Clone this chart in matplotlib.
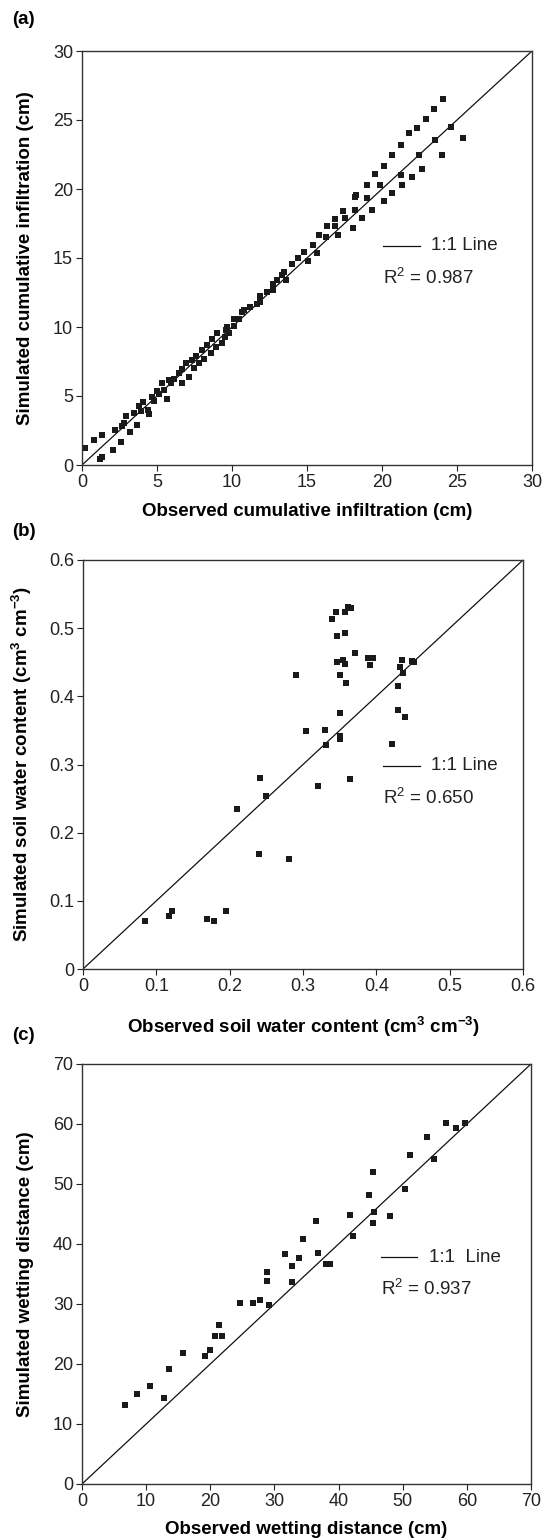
import matplotlib
matplotlib.use("Agg")
import matplotlib.pyplot as plt

plt.rcParams["font.family"] = ["Liberation Sans", "DejaVu Sans"]
plt.rcParams["mathtext.default"] = "regular"

# (a) cumulative infiltration (cm)
obs_a = [0.23, 0.82, 1.35, 1.17, 1.35, 2.05, 2.17, 2.63, 2.68, 2.77, 2.96, 3.19,
         3.45, 3.66, 3.8, 4.08, 3.94, 4.43, 4.48, 4.69, 4.78, 4.97, 5.13, 5.34,
         5.48, 5.66, 5.8, 5.9, 6.13, 6.46, 6.69, 6.64, 6.95, 7.11, 7.3, 7.46,
         7.58, 7.81, 8.0, 8.16, 8.32, 8.58, 8.69, 8.93, 9.02, 9.32, 9.51, 9.79,
         9.64, 9.8, 9.6, 10.13, 10.13, 10.49, 10.69, 10.8, 11.2, 11.64, 11.87,
         11.87, 12.36, 12.71, 12.71, 13.02, 13.31, 13.47, 13.6, 14.02, 14.38,
         14.8, 15.04, 15.42, 15.69, 15.8, 16.25, 16.35,
         16.84, 16.84, 17.07, 17.42, 17.51, 18.09, 18.18, 18.18, 18.29, 18.64,
         18.98, 18.98, 19.31, 19.53, 19.87, 20.11, 20.11, 20.67, 20.67, 21.24,
         21.24, 21.36, 21.8, 22.0, 22.36, 22.49, 22.69, 22.91, 23.47, 23.56,
         24.02, 24.05, 24.58, 25.38]
sim_a = [1.21, 1.81, 2.15, 0.41, 0.6, 1.09, 2.54, 1.67, 2.83, 3.07, 3.55, 2.39,
         3.79, 2.87, 4.28, 4.57, 3.94, 3.99, 3.67, 4.95, 4.66, 5.39, 5.14, 5.92,
         5.43, 4.76, 6.16, 5.97, 6.21, 6.69, 5.92, 6.93, 7.37, 6.4, 7.6, 7.0,
         7.9, 7.37, 8.33, 7.68, 8.7, 8.14, 9.1, 8.53, 9.54, 8.86, 9.25, 9.54,
         10.0, 9.54, 9.78, 10.57, 10.07, 10.57, 11.06, 11.24, 11.47, 11.7, 12.27,
         11.84, 12.56, 13.1, 12.7, 13.4, 13.77, 14.0, 13.4, 14.54, 14.97,
         15.4, 14.78, 15.94, 15.34, 16.64, 16.5, 17.34,
         17.8, 17.34, 16.64, 18.4, 17.9, 17.2, 19.45, 18.5, 19.57, 17.9,
         20.3, 19.35, 18.5, 21.1, 20.3, 21.7, 19.1, 22.5, 19.7, 23.2,
         21.0, 20.3, 24.06, 20.87, 24.4, 22.5, 21.45, 25.1, 25.8, 23.55,
         22.5, 26.52, 24.5, 23.7]

# (b) soil water content (cm3 cm-3)
obs_b = [0.345, 0.340, 0.357, 0.361, 0.366, 0.347, 0.357, 0.371, 0.347, 0.355,
         0.357, 0.388, 0.395, 0.391, 0.290, 0.350, 0.359, 0.435, 0.449, 0.451,
         0.432, 0.437, 0.430, 0.350, 0.430, 0.439, 0.304, 0.330, 0.350, 0.350,
         0.331, 0.421, 0.242, 0.364, 0.320, 0.249, 0.210, 0.240, 0.281,
         0.084, 0.117, 0.121, 0.169, 0.179, 0.195]
sim_b = [0.524, 0.514, 0.524, 0.531, 0.529, 0.488, 0.493, 0.463, 0.451, 0.453,
         0.447, 0.456, 0.456, 0.446, 0.432, 0.432, 0.420, 0.453, 0.452, 0.451,
         0.443, 0.434, 0.415, 0.375, 0.380, 0.370, 0.349, 0.351, 0.342, 0.338,
         0.328, 0.330, 0.280, 0.278, 0.268, 0.254, 0.235, 0.169, 0.161,
         0.071, 0.078, 0.085, 0.073, 0.071, 0.085]

# (c) wetting distance (cm)
obs_c = [6.7, 8.6, 10.6, 12.8, 13.6, 15.8, 19.2, 20.0, 20.8, 21.9, 21.3, 24.7,
         26.6, 27.7, 29.1, 28.8, 28.8, 31.7, 32.8, 32.8, 33.8, 34.4, 36.5, 36.8,
         38.1, 38.65, 41.8, 42.3, 44.7, 45.3, 45.5, 45.3, 48.0, 50.3, 51.2, 53.8,
         54.9, 56.7, 58.3, 59.7]
sim_c = [13.1, 15.0, 16.4, 14.4, 19.1, 21.8, 21.3, 22.4, 24.6, 24.6, 26.5, 30.1,
         30.1, 30.6, 29.8, 33.9, 35.3, 38.3, 36.4, 33.6, 37.7, 40.8, 43.8, 38.5,
         36.7, 36.7, 44.9, 41.3, 48.2, 52.0, 45.4, 43.5, 44.6, 49.2, 54.8, 57.8,
         54.2, 60.2, 59.4, 60.2]

ticks_a = [0, 5, 10, 15, 20, 25, 30]
ticks_b = [0, 0.1, 0.2, 0.3, 0.4, 0.5, 0.6]
labels_b = ["0", "0.1", "0.2", "0.3", "0.4", "0.5", "0.6"]
ticks_c = [0, 10, 20, 30, 40, 50, 60, 70]

W, H = 548, 1540
fig = plt.figure(figsize=(W / 100, H / 100), dpi=100)


def make_ax(left, top, right, bottom):
    return fig.add_axes([left / W, 1 - bottom / H, (right - left) / W, (bottom - top) / H])


panels = [
    dict(ax=make_ax(82, 51, 532, 465), x=obs_a, y=sim_a, ticks=ticks_a, labels=None,
         xlabel="Observed cumulative infiltration (cm)",
         ylabel="Simulated cumulative infiltration (cm)",
         r2="0.987", tag="(a)", tag_y=20, leg=(0.668, 0.750, 0.775, 0.530, 0.451),
         xl=-0.092, yl=-0.107, line_lab="1:1 Line"),
    dict(ax=make_ax(83, 560, 523, 969), x=obs_b, y=sim_b, ticks=ticks_b, labels=labels_b,
         xlabel="Observed soil water content (cm$^{3}$ cm$^{-3}$)",
         ylabel="Simulated soil water content (cm$^{3}$ cm$^{-3}$)",
         r2="0.650", tag="(b)", tag_y=532, leg=(0.681, 0.766, 0.790, 0.497, 0.419),
         xl=-0.1125, yl=-0.111, line_lab="1:1 Line"),
    dict(ax=make_ax(82, 1064, 531, 1484), x=obs_c, y=sim_c, ticks=ticks_c, labels=None,
         xlabel="Observed wetting distance (cm)",
         ylabel="Simulated wetting distance (cm)",
         r2="0.937", tag="(c)", tag_y=1036, leg=(0.666, 0.747, 0.773, 0.540, 0.464),
         xl=-0.089, yl=-0.107, line_lab="1:1  Line"),
]

for p in panels:
    ax = p["ax"]
    lim = p["ticks"][-1]
    ax.plot([0, lim], [0, lim], color="#111111", lw=0.9)
    ax.plot(p["x"], p["y"], "s", color="#1a1a1a", ms=4.8, mew=0)
    ax.set_xlim(0, lim)
    ax.set_ylim(0, lim)
    ax.set_xticks(p["ticks"])
    ax.set_yticks(p["ticks"])
    if p["labels"]:
        ax.set_xticklabels(p["labels"])
        ax.set_yticklabels(p["labels"])
    ax.tick_params(direction="out", length=4.5, width=0.8, labelsize=13,
                   colors="#222222", pad=2)
    for s in ax.spines.values():
        s.set_color("#333333")
        s.set_linewidth(1.0)
    ax.set_xlabel(p["xlabel"], fontsize=13.5, fontweight="bold")
    ax.set_ylabel(p["ylabel"], fontsize=13.5, fontweight="bold")
    ax.xaxis.set_label_coords(0.5, p["xl"])
    ax.yaxis.set_label_coords(p["yl"], 0.5)

    x0, x1, tx, ly, ry = p["leg"]
    ax.plot([x0, x1], [ly, ly], color="#111111", lw=0.9, transform=ax.transAxes)
    ax.text(tx, ly, p["line_lab"], transform=ax.transAxes, fontsize=13.5,
            va="center", ha="left", color="#222222")
    ax.text(x0, ry, "R$^{2}$ = " + p["r2"], transform=ax.transAxes, fontsize=13.5,
            va="center", ha="left", color="#222222")

    fig.text(12 / W, 1 - p["tag_y"] / H, p["tag"], fontsize=13.5, fontweight="bold",
             va="center", ha="left")

fig.savefig("out.png", dpi=100)
